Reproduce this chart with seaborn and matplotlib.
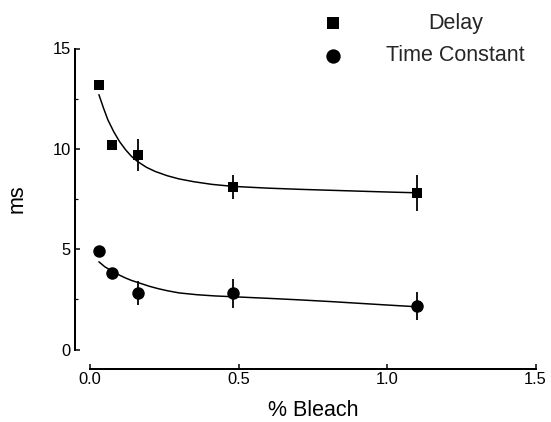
import numpy as np
import pandas as pd
import matplotlib
matplotlib.use("Agg")
import matplotlib.pyplot as plt
import seaborn as sns
from matplotlib.ticker import MultipleLocator

# measured points (x = % bleach, y = ms)
bleach = [0.03, 0.075, 0.16, 0.48, 1.10]
delay = [13.17, 10.20, 9.70, 8.09, 7.81]
delay_err = [0.0, 0.0, 0.80, 0.60, 0.90]
tconst = [4.92, 3.83, 2.81, 2.81, 2.15]
tconst_err = [0.0, 0.0, 0.60, 0.72, 0.70]

# fitted curves
delay_fit_x = [0.03, 0.045, 0.06, 0.08, 0.10, 0.12, 0.14, 0.16, 0.19, 0.22, 0.26,
               0.30, 0.35, 0.41, 0.48, 0.60, 0.71, 0.82, 0.93, 1.02, 1.10]
delay_fit_y = [12.70, 12.05, 11.45, 10.85, 10.35, 9.95, 9.62, 9.37, 9.08, 8.87, 8.66,
               8.50, 8.36, 8.23, 8.13, 8.04, 7.98, 7.93, 7.88, 7.84, 7.81]
tconst_fit_x = [0.03, 0.05, 0.075, 0.10, 0.12, 0.14, 0.165, 0.20, 0.23, 0.26, 0.30,
                0.36, 0.42, 0.48, 0.60, 0.71, 0.82, 0.93, 1.02, 1.10]
tconst_fit_y = [4.37, 4.12, 3.90, 3.70, 3.56, 3.44, 3.32, 3.15, 3.03, 2.93, 2.82,
                2.73, 2.67, 2.63, 2.55, 2.47, 2.38, 2.28, 2.20, 2.13]

x_ticks = [0.0, 0.5, 1.0, 1.5]
y_ticks = [0, 5, 10, 15]

sns.set_style("ticks")
plt.rcParams["font.family"] = ["Liberation Sans", "DejaVu Sans"]

DPI = 72
fig = plt.figure(figsize=(551 / DPI, 422 / DPI), dpi=DPI)
ax = fig.add_axes([90 / 551, 72.5 / 422, 445.5 / 551, 301 / 422])

# fit lines
sns.lineplot(x=delay_fit_x, y=delay_fit_y, ax=ax, color="black", linewidth=1.5,
             sort=False, estimator=None)
sns.lineplot(x=tconst_fit_x, y=tconst_fit_y, ax=ax, color="black", linewidth=1.5,
             sort=False, estimator=None)

# error bars (vertical only)
ax.errorbar(bleach, delay, yerr=delay_err, fmt="none", ecolor="black", elinewidth=1.8, capsize=0)
ax.errorbar(bleach, tconst, yerr=tconst_err, fmt="none", ecolor="black", elinewidth=1.8, capsize=0)

# points
sns.scatterplot(x=bleach, y=delay, ax=ax, marker="s", s=10.5 ** 2, color="black",
                linewidth=0, label="Delay", zorder=5)
sns.scatterplot(x=bleach, y=tconst, ax=ax, marker="o", s=12.5 ** 2, color="black",
                linewidth=0, label="Time Constant", zorder=5)

ax.set_xlim(0, 1.5)
ax.set_ylim(0, 15)
ax.set_xticks(x_ticks)
ax.set_xticklabels([f"{t:.1f}" for t in x_ticks])
ax.set_yticks(y_ticks)
ax.yaxis.set_minor_locator(MultipleLocator(2.5))

ax.tick_params(axis="both", which="major", direction="in", length=5, width=1.5,
               labelsize=16.5, color="black", labelcolor="black")
ax.tick_params(axis="x", pad=3)
ax.tick_params(axis="y", pad=4)
ax.tick_params(axis="y", which="minor", direction="in", length=3, width=1.2, color="black")

for side in ["left", "bottom"]:
    ax.spines[side].set_linewidth(2)
    ax.spines[side].set_color("black")
sns.despine(ax=ax, offset={"left": 15, "bottom": 19.5}, trim=True)

ax.set_xlabel("% Bleach", fontsize=21.5, color="black")
ax.set_ylabel("ms", fontsize=21.5, color="black")
ax.xaxis.set_label_coords(0.5, -0.168)
ax.yaxis.set_label_coords(-0.141, 0.5)

leg = ax.legend(loc="upper left", bbox_to_anchor=(313.5 / 551, 1 - 4 / 422),
                bbox_transform=fig.transFigure, frameon=False, fontsize=21.5,
                handlelength=1.0, handletextpad=1.97, labelspacing=0.55,
                borderaxespad=0, markerscale=1.15)

# centre the shorter label under the longer one, as in the original
fig.canvas.draw()
renderer = fig.canvas.get_renderer()
texts = leg.get_texts()
widths = [t.get_window_extent(renderer).width for t in texts]
wmax = max(widths)
for t, w in zip(texts, widths):
    t.set_x((wmax - w) / 2)

fig.savefig("out.png", dpi=DPI, facecolor="white")
